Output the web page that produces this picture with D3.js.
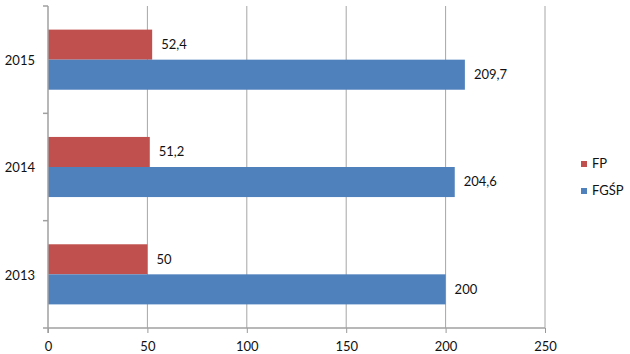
<!DOCTYPE html>
<html>
<head>
<meta charset="utf-8">
<script src="https://cdn.jsdelivr.net/npm/d3@7"></script>
<style>
  body { margin: 0; background: #fff; }
  text { font-family: Lato, "Open Sans", sans-serif; font-size: 13px; fill: #111; }
</style>
</head>
<body>
<script>
// data
var years = ["2013", "2014", "2015"];
var seriesNames = ["FP", "FGŚP"];
var fpValues = [50, 51.2, 52.4];
var fgspValues = [200, 204.6, 209.7];
var xTicks = [0, 50, 100, 150, 200, 250];

var colors = {"FP": "#C0504D", "FGŚP": "#4F81BD"};

var W = 630, H = 354;
var pLeft = 48, pRight = 545, pTop = 6, pBottom = 328;

var svg = d3.select("body").append("svg")
    .attr("width", W)
    .attr("height", H);

var x = d3.scaleLinear().domain([0, 250]).range([pLeft, pRight]);

// 2015 at top, 2013 at bottom
var y = d3.scaleBand().domain(years.slice().reverse()).range([pTop, pBottom])
    .paddingInner(0.44).paddingOuter(0.22);
var yb = d3.scaleBand().domain(seriesNames).range([0, y.bandwidth()]);

// gridlines
svg.append("g").selectAll("line").data(xTicks.slice(1)).enter().append("line")
    .attr("x1", function(d) { return x(d); })
    .attr("x2", function(d) { return x(d); })
    .attr("y1", pTop)
    .attr("y2", pBottom)
    .attr("stroke", "#a6a6a6")
    .attr("stroke-width", 1);

// bars
var rows = years.map(function(yr, i) {
  return {year: yr, vals: [{s: "FP", v: fpValues[i]}, {s: "FGŚP", v: fgspValues[i]}]};
});

var g = svg.selectAll(".row").data(rows).enter().append("g")
    .attr("class", "row")
    .attr("transform", function(d) { return "translate(0," + y(d.year) + ")"; });

g.selectAll("rect").data(function(d) { return d.vals; }).enter().append("rect")
    .attr("x", x(0))
    .attr("y", function(d) { return yb(d.s); })
    .attr("width", function(d) { return x(d.v) - x(0); })
    .attr("height", yb.bandwidth())
    .attr("fill", function(d) { return colors[d.s]; });

g.selectAll("text").data(function(d) { return d.vals; }).enter().append("text")
    .attr("x", function(d) { return x(d.v) + 9; })
    .attr("y", function(d) { return yb(d.s) + yb.bandwidth() / 2 + 1; })
    .attr("dominant-baseline", "middle")
    .text(function(d) { return String(d.v).replace(".", ","); });

// x axis
var xAxis = svg.append("g")
    .attr("transform", "translate(0," + pBottom + ")")
    .call(d3.axisBottom(x).tickValues(xTicks).tickSize(5).tickPadding(9));
xAxis.select(".domain").remove();
xAxis.selectAll(".tick line").attr("stroke", "#999");
xAxis.selectAll(".tick text").style("font-size", "13px").attr("fill", "#111");
svg.append("line")
    .attr("x1", pLeft - 5).attr("x2", pRight)
    .attr("y1", pBottom).attr("y2", pBottom)
    .attr("stroke", "#a0a0a0").attr("stroke-width", 1.5);

// y axis
svg.append("line")
    .attr("x1", pLeft).attr("x2", pLeft)
    .attr("y1", pTop).attr("y2", pBottom + 5)
    .attr("stroke", "#a0a0a0").attr("stroke-width", 1.5);
var step = (pBottom - pTop) / years.length;
svg.append("g").selectAll("line").data(d3.range(years.length)).enter().append("line")
    .attr("x1", pLeft - 5).attr("x2", pLeft)
    .attr("y1", function(d) { return pTop + d * step; })
    .attr("y2", function(d) { return pTop + d * step; })
    .attr("stroke", "#a0a0a0").attr("stroke-width", 1.5);

svg.append("g").selectAll("text").data(years).enter().append("text")
    .attr("x", 35)
    .attr("y", function(d) { return y(d) + y.bandwidth() / 2 + 2; })
    .attr("text-anchor", "end")
    .attr("dominant-baseline", "middle")
    .text(function(d) { return d; });

// legend
var lg = svg.append("g").selectAll("g").data(seriesNames).enter().append("g")
    .attr("transform", function(d, i) { return "translate(581," + (161 + i * 27) + ")"; });
lg.append("rect").attr("width", 6).attr("height", 6)
    .attr("fill", function(d) { return colors[d]; });
lg.append("text").attr("x", 11).attr("y", 3.5)
    .attr("dominant-baseline", "middle")
    .text(function(d) { return d; });
</script>
</body>
</html>
